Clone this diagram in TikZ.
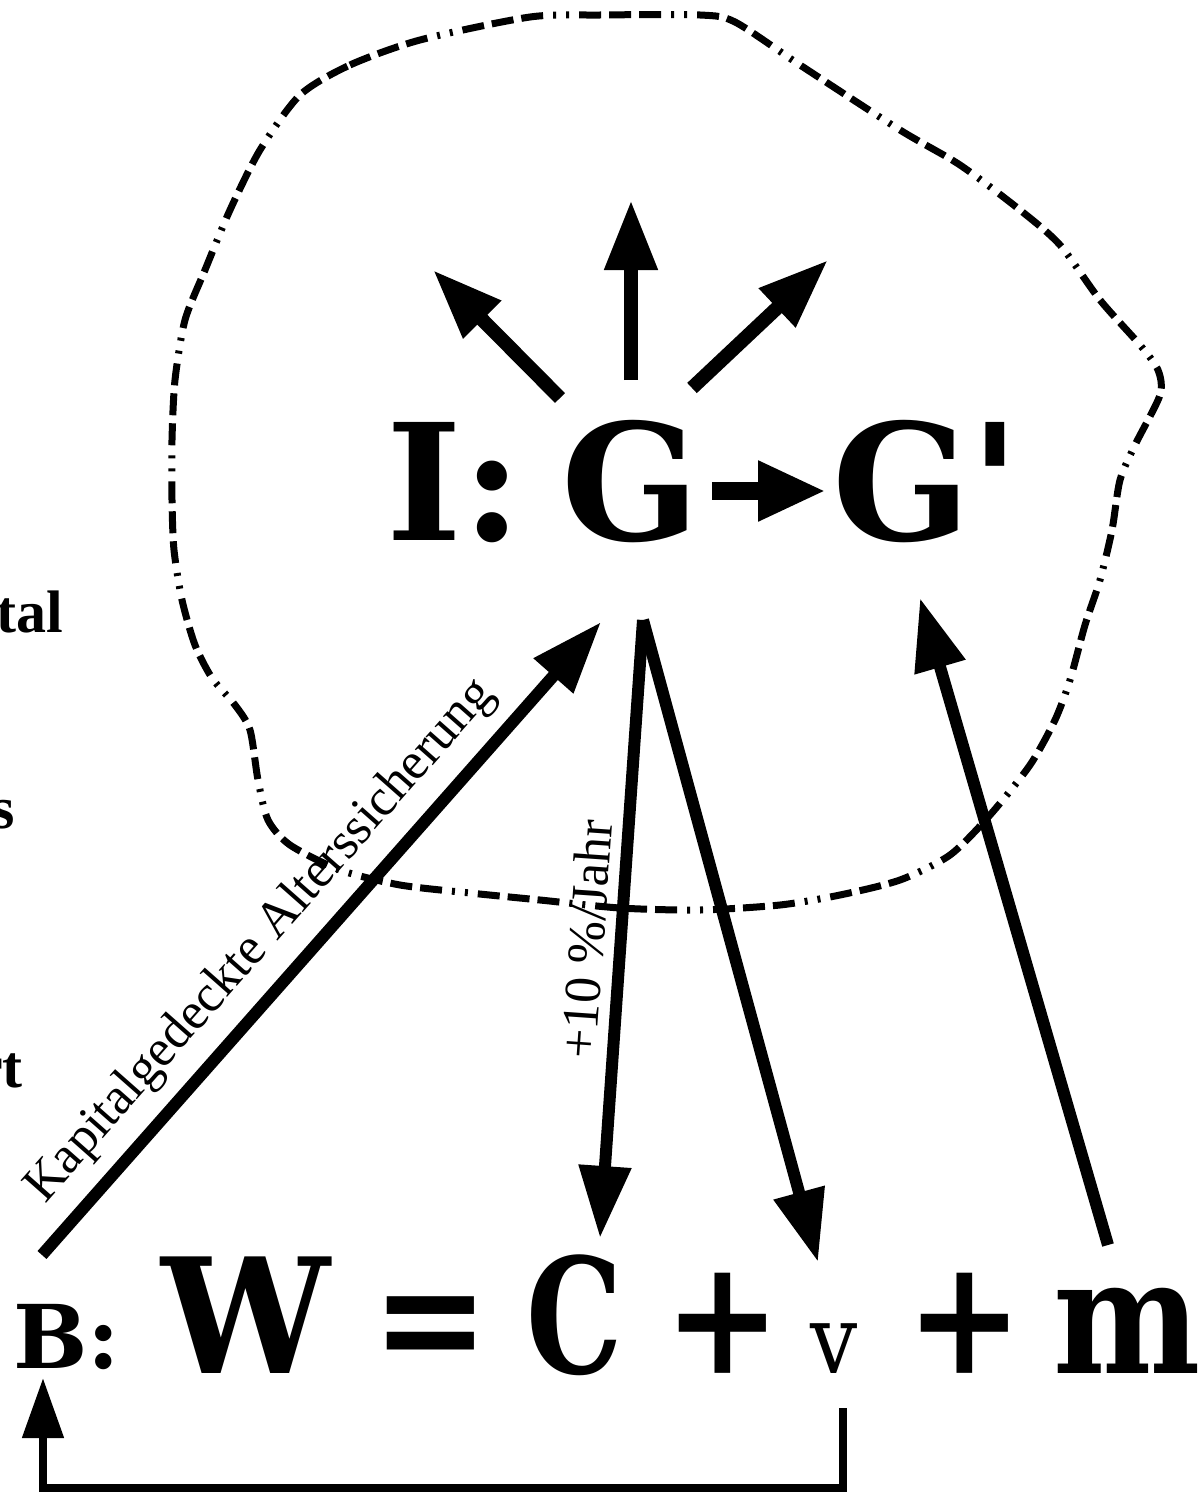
\documentclass[tikz,border=0pt]{standalone}
\usepackage{fontspec}
\setmainfont{Liberation Serif}
\newfontfamily\dvs{DejaVu Serif}
\usepackage{tikz}
\usetikzlibrary{arrows.meta,calc}
\tikzset{
  node-top/.style={inner sep=0pt,anchor=base west,
    font=\dvs\bfseries\fontsize{162}{162}\selectfont},
  node-eq/.style={inner sep=0pt,anchor=base west,xscale=0.87,
    font=\dvs\bfseries\fontsize{160}{160}\selectfont},
  node-small/.style={inner sep=0pt,anchor=base west,xscale=0.87,
    font=\dvs\fontsize{96}{96}\selectfont},
  node-cut/.style={inner sep=0pt,anchor=base east,
    font=\bfseries\fontsize{60}{60}\selectfont},
  node-label/.style={inner sep=0pt,font=\fontsize{52}{52}\selectfont},
  % 点划线轮廓：三划两点
  border/.style={line width=7pt,dash pattern=on 22pt off 8pt on 22pt off 8pt
    on 22pt off 10pt on 3pt off 10pt on 3pt off 10pt},
  arrow-fat/.style={-{Triangle[length=70pt,width=50pt]},line width=14pt},
  arrow-long/.style={-{Triangle[length=72pt,width=50pt]},line width=12pt},
  arrow-mid/.style={-{Triangle[length=68pt,width=56pt]},line width=18pt},
  arrow-back/.style={-{Triangle[length=60pt,width=40pt]},line width=8pt},
}
\begin{document}
\begin{tikzpicture}[x=1pt,y=-1pt]
  \useasboundingbox (0,0) rectangle (1199,1496);

  % 轮廓
  \draw[border] plot[smooth cycle,tension=0.45] coordinates {
    (300,95) (350,65) (420,40) (530,17) (600,15) (700,15) (735,22)
    (800,65) (900,130) (960,165) (1020,210) (1060,245) (1100,300)
    (1140,345) (1158,370) (1160,395) (1135,445) (1120,480) (1112,530)
    (1100,580) (1085,625) (1070,680) (1055,720) (1030,765) (990,815)
    (950,855) (900,880) (840,895) (780,905) (700,910) (620,908)
    (540,900) (470,893) (400,885) (340,870) (290,845) (268,820)
    (258,780) (250,730) (235,705) (212,678) (195,645) (182,600)
    (174,550) (172,500) (172,440) (175,380) (185,320) (205,270)
    (230,210) (260,150)};

  % 上面：I: G -> G'
  \node[node-top] (I) at (386,540) {I:};
  \node[node-top] (G) at (561,540) {G};
  \node[node-top] (Gp) at (832,540) {G\textquotesingle};
  \draw[arrow-mid,shorten <=12pt,shorten >=6pt]
    ([yshift=49pt]G.base east) -- ([yshift=49pt]Gp.base west);

  % 向外的三支箭头
  \coordinate (outL) at (560,398);
  \coordinate (outM) at (631,380);
  \coordinate (outR) at (692,388);
  \coordinate (tipL) at (433,270);
  \coordinate (tipM) at (631,200);
  \coordinate (tipR) at (828,260);
  \draw[arrow-fat] (outL) -- (tipL);
  \draw[arrow-fat] (outM) -- (tipM);
  \draw[arrow-fat] (outR) -- (tipR);

  % 下面：B: W = C + v + m
  \node[node-top,font=\dvs\bfseries\fontsize{88}{88}\selectfont] (B) at (13,1368) {B:};
  \node[node-eq,xscale=1.08] (W) at (161,1373) {W};
  \node[node-eq] (eq) at (372,1373) {=};
  \node[node-eq,xscale=0.87] (C) at (526,1373) {C};
  \node[node-eq] (p1) at (664,1373) {+};
  \node[node-small] (v) at (810,1373) {v};
  \node[node-eq] (p2) at (906,1373) {+};
  \node[node-eq] (m) at (1053,1373) {m};

  % 左边被截断的字
  \node[node-cut] (t1) at (63,632) {tal};
  \node[node-cut] (t2) at (15,828) {s};
  \node[node-cut] (t3) at (23,1087) {rt};

  % 连线
  \coordinate (kapFoot) at (42,1255);
  \coordinate (gIn) at (601,622);
  \coordinate (gOut) at (643,620);
  \coordinate (cTop) at (600,1238);
  \coordinate (vTop) at (818,1262);
  \coordinate (mFoot) at (1108,1245);
  \coordinate (gpIn) at (920,598);
  \draw[arrow-long] (kapFoot) -- node[node-label,pos=0.45,sloped,above=14pt]
    {Kapitalgedeckte Alterssicherung} (gIn);
  \draw[arrow-long] (gOut) -- node[node-label,pos=0.52,sloped,above=10pt]
    {+10 \%/Jahr} (cTop);
  \draw[arrow-long] (gOut) -- (vTop);
  \draw[arrow-long] (mFoot) -- (gpIn);

  % 回路 v -> B
  \coordinate (vFoot) at (843,1408);
  \coordinate (bFoot) at (43,1378);
  \draw[arrow-back] (vFoot) -- (843,1488) -- (43,1488) -- (bFoot);
\end{tikzpicture}
\end{document}
